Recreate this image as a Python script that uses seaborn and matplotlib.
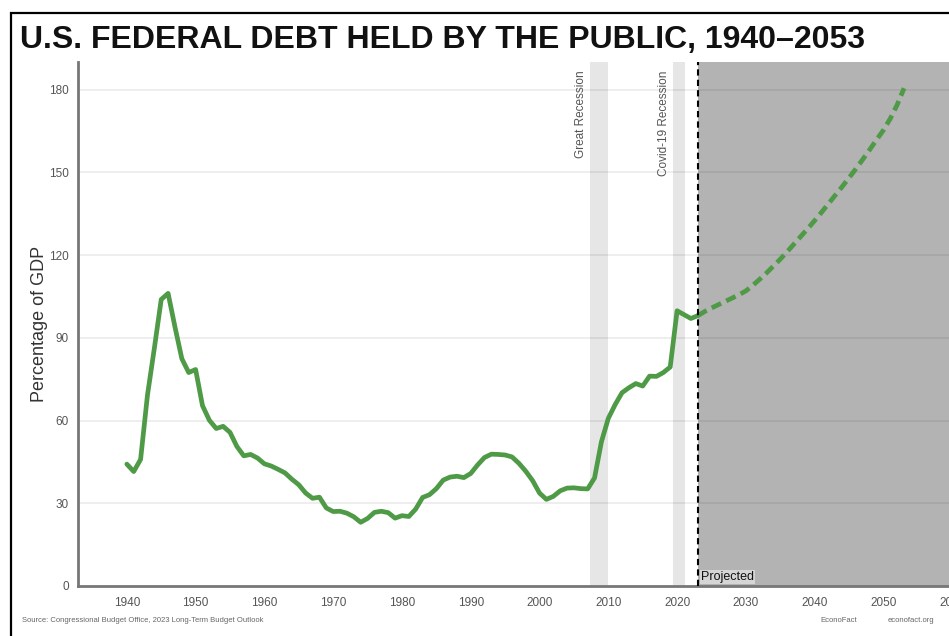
import numpy as np
import pandas as pd
import matplotlib.pyplot as plt
import seaborn as sns
from matplotlib.patches import Rectangle

# federal debt held by the public, % of GDP (CBO, 2023 long-term budget outlook)
years_hist = list(range(1940, 2024))
debt_hist = [44.2, 41.5, 45.9, 69.2, 86.2, 103.9, 106.1, 93.9, 82.4, 77.4,
             78.5, 65.4, 60.1, 57.1, 57.9, 55.7, 50.6, 47.2, 47.7, 46.4,
             44.3, 43.5, 42.3, 41.0, 38.7, 36.7, 33.7, 31.8, 32.2, 28.3,
             27.0, 27.1, 26.4, 25.1, 23.1, 24.5, 26.7, 27.1, 26.6, 24.6,
             25.5, 25.2, 27.9, 32.1, 33.1, 35.3, 38.4, 39.5, 39.8, 39.3,
             40.8, 43.9, 46.6, 47.8, 47.7, 47.5, 46.8, 44.5, 41.6, 38.2,
             33.7, 31.4, 32.5, 34.5, 35.5, 35.6, 35.3, 35.2, 39.2, 52.3,
             60.8, 65.8, 70.1, 71.9, 73.4, 72.5, 76.1, 76.0, 77.4, 79.4,
             99.8, 98.4, 97.0, 98.0]

years_proj = list(range(2023, 2054))
debt_proj = [98.0, 99.5, 100.8, 102.0, 103.2, 104.4, 105.6, 107.0, 109.0, 111.2,
             113.5, 116.0, 118.5, 121.2, 124.0, 126.8, 129.6, 132.5, 135.5, 138.6,
             141.7, 144.8, 148.0, 151.3, 154.7, 158.2, 161.8, 165.3, 169.5, 174.5,
             180.5]

recessions = [("Great Recession", 2007.3, 2009.9), ("Covid-19 Recession", 2019.4, 2021.1)]
proj_start = 2023

x_ticks = list(range(1940, 2061, 10))
y_ticks = list(range(0, 181, 30))

hist = pd.DataFrame({"year": years_hist, "debt": debt_hist})
proj = pd.DataFrame({"year": years_proj, "debt": debt_proj})

sns.set_style("white")
plt.rcParams["font.family"] = ["Liberation Sans", "DejaVu Sans"]

green = "#4f9a46"
fig = plt.figure(figsize=(9.49, 6.36), dpi=100)
ax = fig.add_axes([78 / 949, 50 / 636, 943 / 949, 524 / 636])

ax.set_xlim(1932.9, 2070)
ax.set_ylim(0, 190)

# shaded periods
for name, x0, x1 in recessions:
    ax.axvspan(x0, x1, color="#e6e6e6", zorder=0, lw=0)
    ax.text(x0 - 0.4, 187, name, rotation=90, ha="right", va="top",
            fontsize=8.5, color="#555555")
ax.axvspan(proj_start, 2080, color="#b3b3b3", zorder=0, lw=0)

# gridlines
for y in y_ticks[1:]:
    ax.axhline(y, color="black", alpha=0.08, lw=1.2, zorder=1)

sns.lineplot(data=hist, x="year", y="debt", ax=ax, color=green, lw=3.4, zorder=3)
sns.lineplot(data=proj, x="year", y="debt", ax=ax, color=green, lw=3.4,
             dashes=False, linestyle=(0, (2.2, 1.2)), zorder=3)

ax.axvline(proj_start, color="black", lw=1.5, ls=(0, (3, 2)), zorder=4)
ax.text(proj_start + 0.5, 1.2, "Projected", fontsize=9, ha="left", va="bottom",
        color="#111111", zorder=5,
        bbox=dict(facecolor="#d6d6d6", edgecolor="none", pad=0.6))

ax.set_xticks(x_ticks)
ax.set_yticks(y_ticks)
ax.tick_params(axis="both", labelsize=8.5, labelcolor="#555555", color="#777777",
               length=3, width=1, direction="out")
ax.tick_params(axis="x", pad=5)
ax.set_xlabel("")
ax.set_ylabel("Percentage of GDP", fontsize=13, color="#333333", labelpad=1)
for side in ["top", "right"]:
    ax.spines[side].set_visible(False)
for side in ["left", "bottom"]:
    ax.spines[side].set_color("#777777")
    ax.spines[side].set_linewidth(2)

fig.text(20 / 949, 1 - 40 / 636, "U.S. FEDERAL DEBT HELD BY THE PUBLIC, 1940\u20132053",
         fontsize=23, fontweight="bold", ha="left", va="center", color="#111111")
fig.text(22 / 949, 1 - 621 / 636,
         "Source: Congressional Budget Office, 2023 Long-Term Budget Outlook",
         fontsize=5.5, color="#666666", ha="left", va="center")
fig.text(820 / 949, 1 - 621 / 636, "EconoFact", fontsize=5.5, color="#666666",
         ha="left", va="center")
fig.text(888 / 949, 1 - 621 / 636, "econofact.org", fontsize=5.5, color="#666666",
         ha="left", va="center")

# outer frame, cut off on the right and bottom like the original
fig.patches.append(Rectangle((11 / 949, -0.1), 1.2, 1.1 - 13 / 636,
                             transform=fig.transFigure, fill=False,
                             edgecolor="black", lw=1.6))

fig.savefig("out.png", dpi=100)
